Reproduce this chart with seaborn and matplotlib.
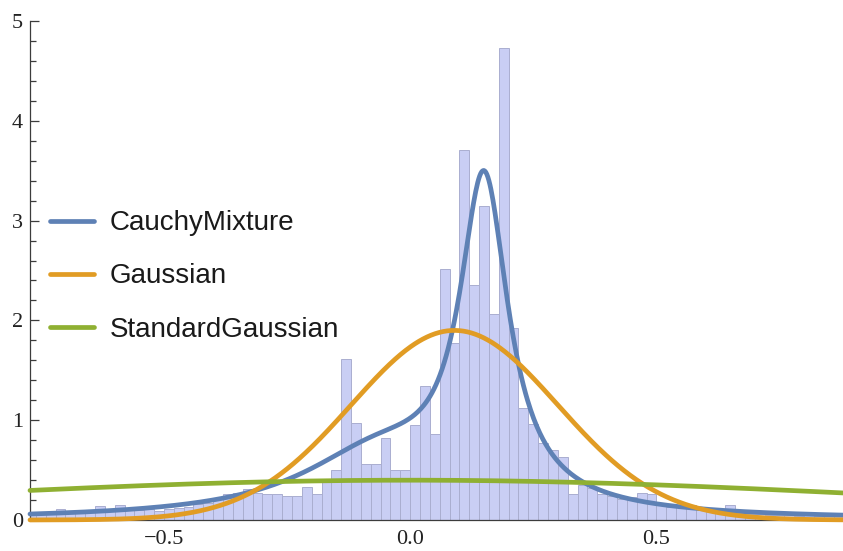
import numpy as np
import pandas as pd
import matplotlib
matplotlib.use("Agg")
import matplotlib.pyplot as plt
import seaborn as sns
from matplotlib.ticker import FixedLocator, FixedFormatter, MultipleLocator

# ---------------- data ----------------
BIN_START = -0.78
BIN_WIDTH = 0.02
HIST_HEIGHTS = [
    0.06, 0.07, 0.08, 0.11, 0.08, 0.08, 0.08, 0.14, 0.09, 0.15,   # -0.78 .. -0.60
    0.10, 0.10, 0.11, 0.09, 0.11, 0.12, 0.13, 0.16, 0.17, 0.21,   # -0.58 .. -0.40
    0.26, 0.27, 0.31, 0.27, 0.26, 0.26, 0.24, 0.24, 0.33, 0.26,   # -0.38 .. -0.20
    0.38, 0.50, 1.61, 0.97, 0.56, 0.56, 0.82, 0.50, 0.50, 0.95,   # -0.18 .. 0.00
    1.34, 0.86, 2.52, 1.77, 3.71, 2.35, 3.15, 2.06, 4.73, 1.92,   #  0.02 .. 0.20
    1.12, 0.96, 0.77, 0.70, 0.63, 0.26, 0.35, 0.32, 0.26, 0.24,   #  0.22 .. 0.40
    0.21, 0.23, 0.27, 0.26, 0.16, 0.13, 0.14, 0.15, 0.11, 0.10,   #  0.42 .. 0.60
    0.10, 0.15, 0.07, 0.06, 0.06, 0.05, 0.05, 0.05, 0.04, 0.05,   #  0.62 .. 0.80
    0.04, 0.04, 0.04,                                             #  0.82 .. 0.86
]

SERIES = ["CauchyMixture", "Gaussian", "StandardGaussian"]
COLORS = ["#5E81B5", "#E19C24", "#8FB032"]

# fitted distribution parameters
CAUCHY_WEIGHTS = [0.6, 0.4]
CAUCHY_LOCS = [0.15, -0.06]
CAUCHY_SCALES = [0.0597, 0.20]
GAUSS_MEAN, GAUSS_SD = 0.09, 0.21
STD_MEAN, STD_SD = 0.0, 1.0

X_RANGE = (-0.772, 0.879)
Y_RANGE = (0.0, 5.0)
X_TICKS = [-0.5, 0.0, 0.5]
X_TICK_LABELS = ["\u22120.5", "0.0", "0.5"]
Y_TICKS = [0, 1, 2, 3, 4, 5]
Y_TICK_LABELS = ["0", "1", "2", "3", "4", "5"]

# ---------------- figure ----------------
sns.set_style("ticks")
plt.rcParams["font.family"] = ["Liberation Serif", "DejaVu Serif"]

W, H = 843, 551
fig = plt.figure(figsize=(W / 100, H / 100), dpi=100)
ax = fig.add_axes([30 / W, (H - 520) / H, (W - 30) / W, (520 - 21) / H])

n_bins = len(HIST_HEIGHTS)
centers = BIN_START + BIN_WIDTH * (np.arange(n_bins) + 0.5)
hist_df = pd.DataFrame({"x": centers, "h": HIST_HEIGHTS})
sns.histplot(data=hist_df, x="x", weights="h", binwidth=BIN_WIDTH,
             binrange=(BIN_START, BIN_START + BIN_WIDTH * n_bins), stat="count",
             color="#C9CEF4", edgecolor="#AAAED0", linewidth=0.7, alpha=1.0,
             ax=ax, zorder=1)


def cauchy(x, loc, scale):
    return scale / (np.pi * ((x - loc) ** 2 + scale ** 2))


def gauss(x, mu, sd):
    return np.exp(-0.5 * ((x - mu) / sd) ** 2) / (sd * np.sqrt(2 * np.pi))


xs = np.linspace(X_RANGE[0], X_RANGE[1], 800)
curves = {
    "CauchyMixture": sum(w * cauchy(xs, l, s) for w, l, s in
                         zip(CAUCHY_WEIGHTS, CAUCHY_LOCS, CAUCHY_SCALES)),
    "Gaussian": gauss(xs, GAUSS_MEAN, GAUSS_SD),
    "StandardGaussian": gauss(xs, STD_MEAN, STD_SD),
}
line_df = pd.concat([pd.DataFrame({"x": xs, "density": curves[s], "series": s})
                     for s in SERIES], ignore_index=True)
sns.lineplot(data=line_df, x="x", y="density", hue="series", hue_order=SERIES,
             palette=COLORS, linewidth=3.4, estimator=None, sort=False,
             legend=False, ax=ax, clip_on=False, zorder=3)

ax.set_xlim(*X_RANGE)
ax.set_ylim(*Y_RANGE)
ax.set_xlabel("")
ax.set_ylabel("")

for side in ["top", "right"]:
    ax.spines[side].set_visible(False)
for side in ["left", "bottom"]:
    ax.spines[side].set_color("#3c3c3c")
    ax.spines[side].set_linewidth(0.9)

ax.xaxis.set_major_locator(FixedLocator(X_TICKS))
ax.xaxis.set_major_formatter(FixedFormatter(X_TICK_LABELS))
ax.xaxis.set_minor_locator(MultipleLocator(0.1))
ax.yaxis.set_major_locator(FixedLocator(Y_TICKS))
ax.yaxis.set_major_formatter(FixedFormatter(Y_TICK_LABELS))
ax.yaxis.set_minor_locator(MultipleLocator(0.2))

ax.tick_params(axis="y", which="major", direction="in", length=6.5, width=0.9,
               color="#3c3c3c", pad=5, labelsize=16, labelcolor="#222222")
ax.tick_params(axis="y", which="minor", direction="in", length=4.3, width=0.9,
               color="#3c3c3c")
ax.tick_params(axis="x", which="major", direction="in", length=3.8, width=0.9,
               color="#3c3c3c", pad=7, labelsize=16, labelcolor="#222222")
ax.tick_params(axis="x", which="minor", direction="in", length=3.6, width=0.9,
               color="#3c3c3c")

handles = ax.get_lines()[:3]
leg = ax.legend(handles=handles, labels=SERIES, loc="center left",
                bbox_to_anchor=((50 - 30) / (W - 30), 2.44 / 5.0),
                frameon=False, borderpad=0, borderaxespad=0,
                handlelength=1.6, handletextpad=0.54, labelspacing=0.98,
                prop={"family": ["Liberation Sans", "DejaVu Sans"], "size": 20})
for t in leg.get_texts():
    t.set_color("#1a1a1a")

fig.savefig("out.png", dpi=100)
